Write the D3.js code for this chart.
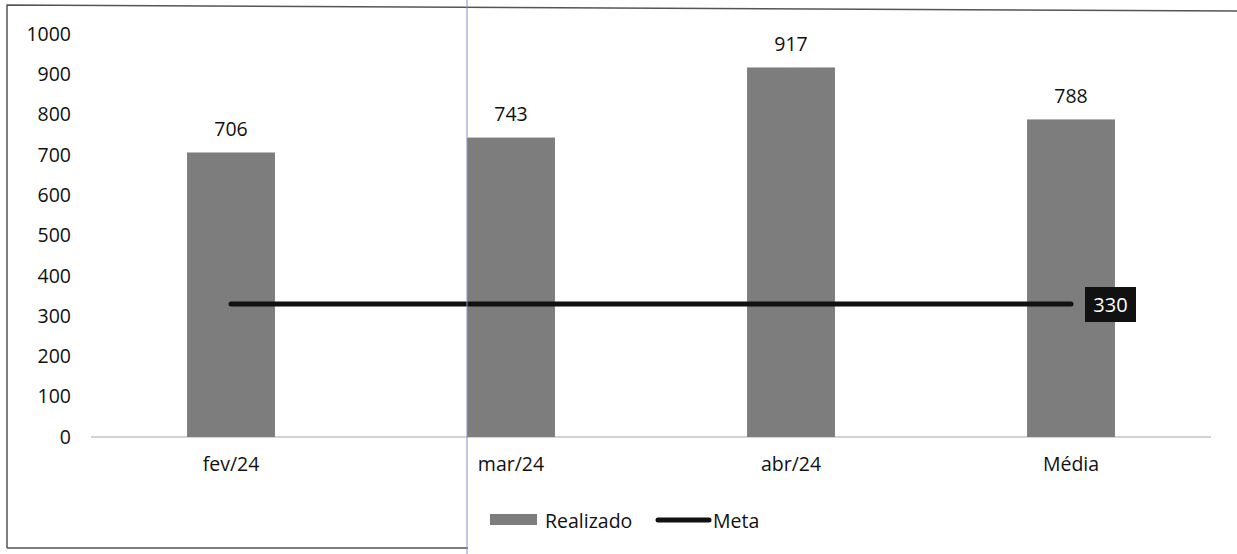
<!DOCTYPE html>
<html><head><meta charset="utf-8">
<script src="https://cdn.jsdelivr.net/npm/d3@7/dist/d3.min.js"></script>
<style>body{margin:0;background:#fff}svg{display:block}text{font-family:"Open Sans",sans-serif}</style>
</head><body>
<svg id="c" width="1237" height="554"></svg>
<script>
const categories = ["fev/24","mar/24","abr/24","Média"];
const realizado = [706,743,917,788];
const meta = [330,330,330,330];
const yTicks = [0,100,200,300,400,500,600,700,800,900,1000];
const seriesNames = ["Realizado","Meta"];

const FS = 19.5;
const svg = d3.select("#c");
const x = d3.scaleBand().domain(categories).range([91,1211]).paddingInner(0.686).paddingOuter(0.343);
const y = d3.scaleLinear().domain([0,1000]).range([437,34]);

// frame
svg.append("path").attr("d","M7,548 L7,5 L1237,11").attr("fill","none").attr("stroke","#555").attr("stroke-width",1.5);
svg.append("line").attr("x1",7).attr("x2",468).attr("y1",548).attr("y2",548).attr("stroke","#555").attr("stroke-width",1.5);

// y axis labels
const yAxis = d3.axisLeft(y).tickValues(yTicks).tickFormat(d3.format("d")).tickSize(0).tickPadding(0);
const ga = svg.append("g").attr("transform","translate(71,0)").call(yAxis);
ga.select(".domain").remove();
ga.selectAll("text").attr("font-size",FS).attr("fill","#111").attr("font-family","'Open Sans',sans-serif");

// baseline
svg.append("line").attr("x1",91).attr("x2",1211).attr("y1",y(0)).attr("y2",y(0)).attr("stroke","#c4c4c4").attr("stroke-width",1.5);

// bars
svg.selectAll("rect.bar").data(categories).join("rect").attr("class","bar")
  .attr("x",d=>x(d)).attr("width",x.bandwidth())
  .attr("y",(d,i)=>y(realizado[i])).attr("height",(d,i)=>y(0)-y(realizado[i]))
  .attr("fill","#7d7d7d");

// bar value labels
svg.selectAll("text.val").data(categories).join("text").attr("class","val")
  .attr("x",d=>x(d)+x.bandwidth()/2).attr("y",(d,i)=>y(realizado[i])-24)
  .attr("text-anchor","middle").attr("dominant-baseline","central")
  .attr("font-size",FS).attr("fill","#111").text((d,i)=>realizado[i]);

// category labels
const xAxis = d3.axisBottom(x).tickSize(0).tickPadding(0);
const gx = svg.append("g").attr("transform","translate(0,465)").call(xAxis);
gx.select(".domain").remove();
gx.selectAll("text").attr("font-size",FS).attr("fill","#111").attr("dy","0.32em").attr("y",0).attr("font-family","'Open Sans',sans-serif");

// meta line
const line = d3.line().x((d,i)=>x(categories[i])+x.bandwidth()/2).y(d=>y(d));
svg.append("path").datum(meta).attr("d",line).attr("fill","none").attr("stroke","#111").attr("stroke-width",5).attr("stroke-linecap","round");

// meta last label
const lx = x(categories[3])+x.bandwidth()/2 + 14, ly = y(meta[3]);
svg.append("rect").attr("x",lx).attr("y",ly-17).attr("width",51).attr("height",35).attr("fill","#111");
svg.append("text").attr("x",lx+25.5).attr("y",ly).attr("text-anchor","middle").attr("dominant-baseline","central")
  .attr("font-size",20).attr("fill","#fff").text(meta[3]);

// legend
const lg = svg.append("g");
lg.append("rect").attr("x",490).attr("y",514).attr("width",47).attr("height",11).attr("fill","#7d7d7d");
lg.append("text").attr("x",545).attr("y",520).attr("dominant-baseline","central").attr("font-size",FS).attr("fill","#111").text(seriesNames[0]);
lg.append("line").attr("x1",658).attr("x2",709).attr("y1",520).attr("y2",520).attr("stroke","#111").attr("stroke-width",5).attr("stroke-linecap","round");
lg.append("text").attr("x",713).attr("y",520).attr("dominant-baseline","central").attr("font-size",FS).attr("fill","#111").text(seriesNames[1]);

// scan artifact vertical line
svg.append("line").attr("x1",467).attr("x2",467).attr("y1",0).attr("y2",554).attr("stroke","#8a8cc8").attr("stroke-width",1);
</script>
</body></html>
